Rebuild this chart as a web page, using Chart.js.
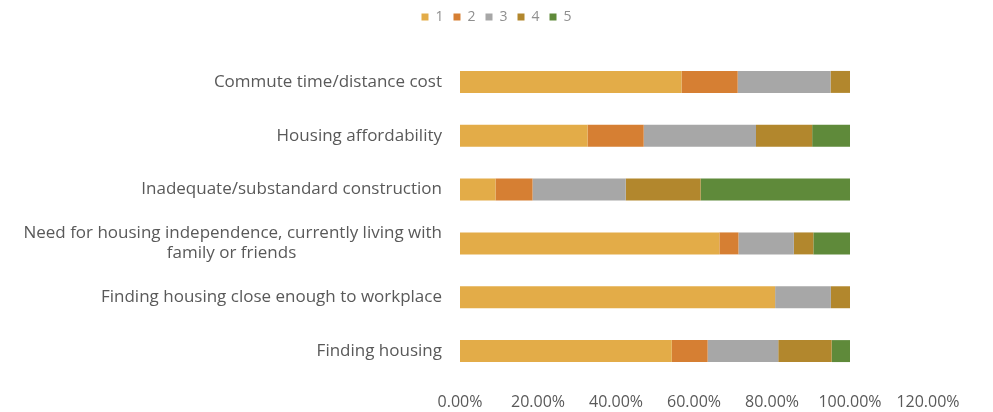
<!DOCTYPE html>
<html>
<head>
<meta charset="utf-8">
<script src="https://cdn.jsdelivr.net/npm/chart.js@4"></script>
<style>
  html, body { margin: 0; padding: 0; background: #fff; }
  #wrap { width: 993px; height: 412px; }
</style>
</head>
<body>
<div id="wrap"><canvas id="chart"></canvas></div>
<script>
"use strict";

// categories (top to bottom)
const categories = [
  "Commute time/distance cost",
  "Housing affordability",
  "Inadequate/substandard construction",
  ["Need for housing independence, currently living with", "family or friends"],
  "Finding housing close enough to workplace",
  "Finding housing",
];

// share of responses per rating (%)
const rating1 = [56.8, 32.7, 9.1, 66.5, 80.8, 54.3];
const rating2 = [14.4, 14.4, 9.5, 4.9, 0, 9.2];
const rating3 = [23.8, 28.8, 23.9, 14.2, 14.3, 18.1];
const rating4 = [5.0, 14.4, 19.2, 5.0, 4.9, 13.7];
const rating5 = [0, 9.7, 38.3, 9.4, 0, 4.7];

const seriesLabels = ["1", "2", "3", "4", "5"];
const xTicks = [0, 20, 40, 60, 80, 100, 120];

const colors = ["#E3AC48", "#D67F33", "#A7A7A7", "#B2872D", "#5F8A3A"];
const textColor = "#595959";
const fontFamily = "'Open Sans', sans-serif";
const yFont = { family: fontFamily, size: 17 };

const allSeries = [rating1, rating2, rating3, rating4, rating5];

const data = {
  labels: categories,
  datasets: allSeries.map((vals, i) => ({
    label: seriesLabels[i],
    data: vals,
    backgroundColor: colors[i],
    borderWidth: 0,
    barPercentage: 0.8,
    categoryPercentage: 0.51,
  })),
};

// give the legend some room below it
const legendGap = {
  id: "legendGap",
  beforeInit(chart) {
    const origFit = chart.legend.fit;
    chart.legend.fit = function () {
      origFit.bind(chart.legend)();
      this.height += 21;
    };
  },
};

// wrapped labels: center the shorter lines under the longest one
function centerLines(lines, ctx) {
  ctx.save();
  ctx.font = `${yFont.size}px ${yFont.family}`;
  const widths = lines.map((l) => ctx.measureText(l).width);
  const maxW = Math.max(...widths);
  const spaceW = ctx.measureText(" ").width;
  ctx.restore();
  return lines.map((l, i) => {
    const n = Math.round((maxW - widths[i]) / 2 / spaceW);
    return l + " ".repeat(n);
  });
}

const config = {
  type: "bar",
  data: data,
  plugins: [legendGap],
  options: {
    indexAxis: "y",
    responsive: true,
    maintainAspectRatio: false,
    animation: false,
    layout: {
      padding: { left: 0, right: 0, top: 0, bottom: 0 },
    },
    plugins: {
      legend: {
        position: "top",
        align: "center",
        labels: {
          boxWidth: 7,
          boxHeight: 7,
          padding: 10,
          color: "#8f8f8f",
          font: { family: fontFamily, size: 14 },
        },
      },
      tooltip: { enabled: false },
    },
    scales: {
      x: {
        stacked: true,
        min: 0,
        max: 120,
        afterBuildTicks: (scale) => {
          scale.ticks = xTicks.map((v) => ({ value: v }));
        },
        afterFit: (scale) => {
          scale.paddingRight = 65;
          scale.height = 34;
        },
        grid: { display: false, drawTicks: false },
        border: { display: false },
        ticks: {
          color: textColor,
          padding: 15,
          font: { family: fontFamily, size: 16 },
          callback: (value) => value.toFixed(2) + "%",
        },
      },
      y: {
        stacked: true,
        grid: { display: false, drawTicks: false },
        border: { display: false },
        afterFit: (scale) => {
          scale.width = 460;
        },
        ticks: {
          color: textColor,
          padding: 18,
          font: yFont,
          callback: function (value) {
            const lab = this.getLabelForValue(value);
            return Array.isArray(lab) ? centerLines(lab, this.ctx) : lab;
          },
        },
      },
    },
  },
};

const myChart = new Chart(document.getElementById("chart"), config);
</script>
</body>
</html>
